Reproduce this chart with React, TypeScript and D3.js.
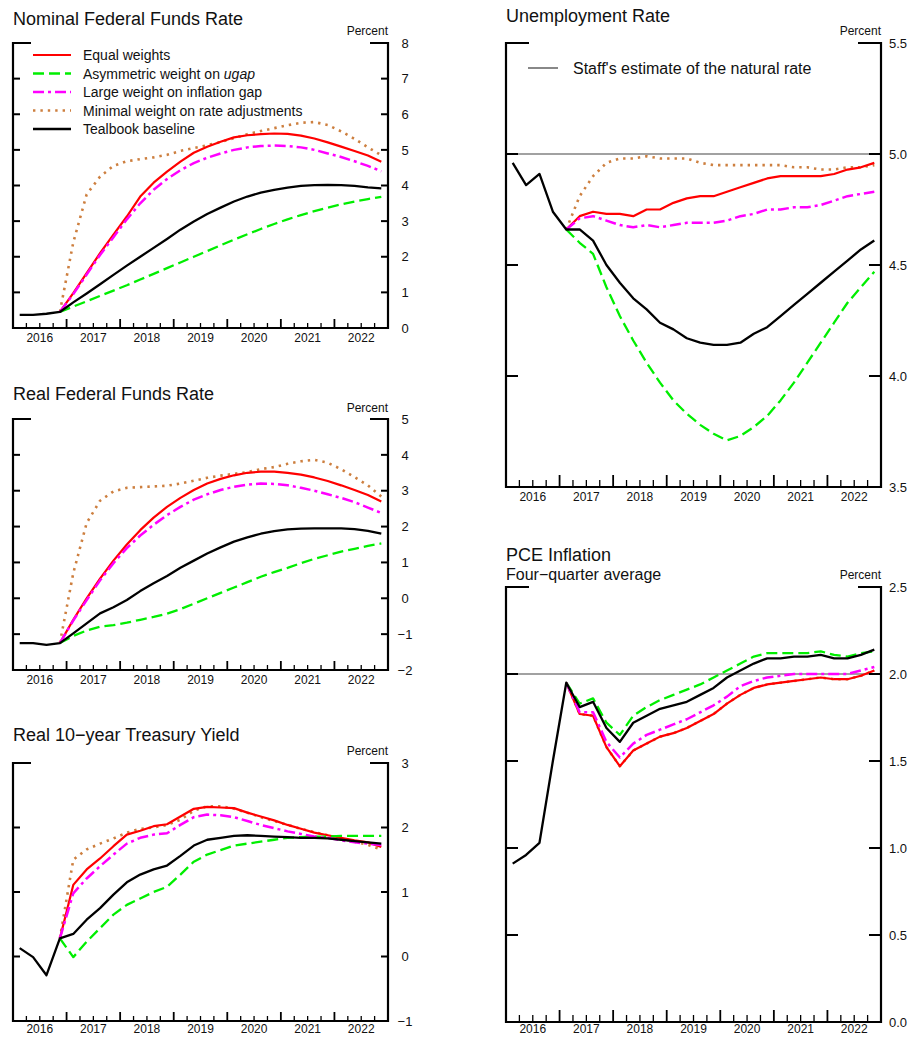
import React from "react";
import * as d3 from "d3";

// ---------- categories ----------
const quarters = [
  "2016Q1","2016Q2","2016Q3","2016Q4","2017Q1","2017Q2","2017Q3","2017Q4",
  "2018Q1","2018Q2","2018Q3","2018Q4","2019Q1","2019Q2","2019Q3","2019Q4",
  "2020Q1","2020Q2","2020Q3","2020Q4","2021Q1","2021Q2","2021Q3","2021Q4",
  "2022Q1","2022Q2","2022Q3","2022Q4",
];
const years = ["2016", "2017", "2018", "2019", "2020", "2021", "2022"];

const seriesNames = [
  "Equal weights",
  "Asymmetric weight on ugap",
  "Large weight on inflation gap",
  "Minimal weight on rate adjustments",
  "Tealbook baseline",
];
const naturalRateLabel = "Staff's estimate of the natural rate";

type V = number | null;
const _ = null;

// ---------- Nominal Federal Funds Rate ----------
const nomEqual: V[] = [_,_,_,0.45,0.98,1.54,2.1,2.62,3.13,3.69,4.08,4.39,4.67,4.92,5.09,5.23,5.35,5.41,5.44,5.46,5.45,5.4,5.32,5.21,5.09,4.97,4.84,4.67];
const nomAsym: V[] = [_,_,_,0.45,0.6,0.75,0.9,1.05,1.2,1.36,1.52,1.68,1.84,2.0,2.16,2.32,2.48,2.63,2.78,2.92,3.05,3.17,3.28,3.38,3.47,3.55,3.62,3.68];
const nomInfl: V[] = [_,_,_,0.45,0.95,1.5,2.05,2.55,3.05,3.5,3.88,4.18,4.43,4.63,4.78,4.9,5.0,5.07,5.11,5.12,5.11,5.07,5.0,4.9,4.8,4.68,4.55,4.4];
const nomMinimal: V[] = [_,_,_,0.45,2.4,3.75,4.25,4.55,4.68,4.74,4.79,4.86,4.97,5.05,5.13,5.22,5.33,5.44,5.53,5.61,5.69,5.76,5.78,5.7,5.52,5.31,5.07,4.85];
const nomBaseline: V[] = [0.37,0.37,0.4,0.45,0.72,0.97,1.23,1.49,1.75,2.0,2.25,2.5,2.76,2.99,3.2,3.38,3.55,3.69,3.8,3.88,3.94,3.99,4.01,4.02,4.01,3.99,3.95,3.92];
const nomTicks = [0, 1, 2, 3, 4, 5, 6, 7, 8];

// ---------- Real Federal Funds Rate ----------
const realEqual: V[] = [_,_,_,-1.25,-0.6,0.0,0.55,1.05,1.5,1.9,2.25,2.55,2.8,3.02,3.2,3.33,3.43,3.5,3.53,3.53,3.5,3.45,3.37,3.27,3.15,3.02,2.88,2.7];
const realAsym: V[] = [_,_,_,-1.25,-1.05,-0.9,-0.79,-0.75,-0.68,-0.6,-0.52,-0.43,-0.3,-0.15,0.0,0.15,0.3,0.45,0.6,0.73,0.85,0.98,1.1,1.2,1.3,1.38,1.46,1.53];
const realInfl: V[] = [_,_,_,-1.25,-0.62,-0.05,0.5,0.98,1.4,1.75,2.05,2.32,2.55,2.75,2.9,3.02,3.11,3.17,3.2,3.19,3.15,3.08,3.0,2.9,2.8,2.68,2.53,2.38];
const realMinimal: V[] = [_,_,_,-1.25,0.7,2.1,2.72,2.98,3.08,3.1,3.12,3.14,3.2,3.28,3.36,3.42,3.47,3.52,3.6,3.66,3.75,3.82,3.86,3.78,3.6,3.38,3.15,2.84];
const realBaseline: V[] = [-1.25,-1.25,-1.3,-1.25,-0.98,-0.7,-0.42,-0.25,-0.05,0.2,0.42,0.62,0.85,1.05,1.25,1.42,1.58,1.7,1.8,1.87,1.92,1.94,1.95,1.95,1.95,1.93,1.88,1.8];
const realTicks = [-2, -1, 0, 1, 2, 3, 4, 5];

// ---------- Real 10-year Treasury Yield ----------
const tyEqual: V[] = [_,_,_,0.28,1.11,1.35,1.52,1.71,1.89,1.95,2.02,2.05,2.17,2.29,2.32,2.31,2.3,2.23,2.17,2.11,2.04,1.98,1.92,1.88,1.84,1.8,1.77,1.7];
const tyAsym: V[] = [_,_,_,0.28,-0.01,0.23,0.44,0.65,0.8,0.9,1.0,1.08,1.27,1.47,1.58,1.65,1.72,1.75,1.78,1.81,1.84,1.85,1.86,1.86,1.87,1.87,1.87,1.87];
const tyInfl: V[] = [_,_,_,0.28,0.98,1.21,1.4,1.58,1.75,1.84,1.89,1.91,2.04,2.16,2.2,2.19,2.16,2.1,2.04,1.99,1.94,1.9,1.86,1.84,1.8,1.77,1.75,1.73];
const tyMinimal: V[] = [_,_,_,0.28,1.5,1.66,1.75,1.83,1.92,1.98,2.0,2.04,2.12,2.26,2.33,2.33,2.29,2.23,2.16,2.1,2.04,1.98,1.93,1.88,1.83,1.78,1.73,1.66];
const tyBaseline: V[] = [0.13,-0.01,-0.29,0.28,0.35,0.57,0.75,0.96,1.15,1.27,1.35,1.41,1.56,1.72,1.81,1.84,1.87,1.88,1.87,1.86,1.85,1.84,1.84,1.83,1.81,1.79,1.77,1.75];
const tyTicks = [-1, 0, 1, 2, 3];

// ---------- Unemployment Rate ----------
const unEqual: V[] = [_,_,_,_,4.66,4.72,4.74,4.73,4.73,4.72,4.75,4.75,4.78,4.8,4.81,4.81,4.83,4.85,4.87,4.89,4.9,4.9,4.9,4.9,4.91,4.93,4.94,4.96];
const unAsym: V[] = [_,_,_,_,4.66,4.6,4.55,4.4,4.27,4.16,4.06,3.97,3.89,3.83,3.78,3.74,3.71,3.73,3.77,3.82,3.89,3.97,4.06,4.15,4.24,4.33,4.4,4.47];
const unInfl: V[] = [_,_,_,_,4.66,4.71,4.72,4.7,4.68,4.67,4.68,4.67,4.68,4.69,4.69,4.69,4.7,4.72,4.73,4.75,4.75,4.76,4.76,4.77,4.79,4.81,4.82,4.83];
const unMinimal: V[] = [_,_,_,_,4.66,4.81,4.9,4.96,4.98,4.98,4.99,4.98,4.98,4.98,4.96,4.95,4.95,4.95,4.95,4.95,4.95,4.94,4.94,4.93,4.93,4.94,4.94,4.95];
const unBaseline: V[] = [4.96,4.86,4.91,4.74,4.66,4.66,4.61,4.5,4.42,4.35,4.3,4.24,4.21,4.17,4.15,4.14,4.14,4.15,4.19,4.22,4.27,4.32,4.37,4.42,4.47,4.52,4.57,4.61];
const naturalRate = 5.0;
const unTicks = [3.5, 4.0, 4.5, 5.0, 5.5];

// ---------- PCE Inflation ----------
const pceEqual: V[] = [_,_,_,_,1.95,1.77,1.76,1.58,1.47,1.56,1.6,1.64,1.66,1.69,1.73,1.77,1.83,1.88,1.92,1.94,1.95,1.96,1.97,1.98,1.97,1.97,1.99,2.02];
const pceAsym: V[] = [_,_,_,_,1.95,1.83,1.86,1.72,1.65,1.76,1.81,1.85,1.88,1.91,1.94,1.98,2.02,2.06,2.1,2.12,2.12,2.12,2.12,2.13,2.11,2.1,2.12,2.13];
const pceInfl: V[] = [_,_,_,_,1.95,1.78,1.78,1.61,1.52,1.6,1.65,1.68,1.71,1.74,1.78,1.82,1.87,1.93,1.96,1.98,1.99,2.0,2.0,2.0,2.0,2.0,2.02,2.04];
const pceMinimal: V[] = [_,_,_,_,1.95,1.77,1.76,1.58,1.47,1.56,1.6,1.64,1.66,1.69,1.73,1.77,1.83,1.88,1.92,1.94,1.95,1.96,1.97,1.98,1.97,1.97,1.99,2.02];
const pceBaseline: V[] = [0.91,0.96,1.03,1.5,1.95,1.81,1.84,1.69,1.61,1.72,1.76,1.8,1.82,1.84,1.88,1.92,1.98,2.02,2.06,2.09,2.09,2.1,2.1,2.11,2.09,2.09,2.11,2.14];
const pceTarget = 2.0;
const pceTicks = [0, 0.5, 1.0, 1.5, 2.0, 2.5];

// ---------- styles ----------
const FONT = "'Liberation Sans', Arial, Helvetica, sans-serif";
const seriesStyles = [
  { color: "#ff0000", width: 2.2, dash: "" },
  { color: "#00ee00", width: 2.3, dash: "11,5" },
  { color: "#ff00ff", width: 2.5, dash: "11,4,3,4" },
  { color: "#cd7f3f", width: 2.6, dash: "2.4,5" },
  { color: "#000000", width: 2.3, dash: "" },
];
// draw order: minimal-adjustment dots sit under the equal-weights line
const drawOrder = [3, 0, 1, 2, 4];

const qTime = (q: string) => +q.slice(0, 4) + (+q.slice(5) - 0.5) / 4;

type PanelProps = {
  x0: number; x1: number; top: number; bottom: number;
  title: string; subtitle?: string; titleY: number; subtitleY?: number; percentY: number;
  domain: [number, number]; ticks: number[]; fmt: (v: number) => string;
  series: V[][]; refLine?: number; yearDy: number;
  bracket: number; yTickLen: number; minorLen: number; majorLen: number;
  legend?: boolean; natLegend?: boolean;
};

function Panel(p: PanelProps) {
  const x = d3.scaleLinear().domain([+years[0], +years[years.length - 1] + 1]).range([p.x0, p.x1]);
  const y = d3.scaleLinear().domain(p.domain).range([p.bottom, p.top]);
  const line = d3
    .line<V>()
    .defined((d) => d !== null)
    .x((_d, i) => x(qTime(quarters[i])))
    .y((d) => y(d as number));

  const boundaries = quarters.slice(1).map((q) => qTime(q) - 0.125);
  const frame = `M${p.x0 + p.bracket},${p.top}H${p.x0}V${p.bottom}H${p.x1}V${p.top}H${p.x1 - p.bracket}`;

  return (
    <g>
      <text x={p.x0} y={p.titleY} fontSize={18} fill="#111">{p.title}</text>
      {p.subtitle && (
        <text x={p.x0} y={p.subtitleY} fontSize={16} fill="#111">{p.subtitle}</text>
      )}
      <text x={p.x1} y={p.percentY} fontSize={12} textAnchor="end" fill="#111">Percent</text>

      {p.refLine !== undefined && (
        <line x1={p.x0} x2={p.x1} y1={y(p.refLine)} y2={y(p.refLine)} stroke="#444" strokeWidth={1.2} />
      )}

      {drawOrder.map((k) => (
        <path
          key={k}
          d={line(p.series[k]) || ""}
          fill="none"
          stroke={seriesStyles[k].color}
          strokeWidth={seriesStyles[k].width}
          strokeDasharray={seriesStyles[k].dash || undefined}
          strokeLinejoin="round"
        />
      ))}

      <path d={frame} fill="none" stroke="#000" strokeWidth={2.2} />
      {p.ticks.slice(1, -1).map((t) => (
        <g key={t}>
          <line x1={p.x0} x2={p.x0 + p.yTickLen} y1={y(t)} y2={y(t)} stroke="#000" strokeWidth={2} />
          <line x1={p.x1 - p.yTickLen} x2={p.x1} y1={y(t)} y2={y(t)} stroke="#000" strokeWidth={2} />
        </g>
      ))}
      {p.ticks.map((t) => (
        <text key={"l" + t} x={p.x1 + 17} y={y(t)} dy="0.36em" fontSize={13} textAnchor="middle" fill="#111">
          {p.fmt(t)}
        </text>
      ))}
      {boundaries.map((b, i) => {
        const major = (i + 1) % 4 === 0;
        return (
          <line key={"b" + i} x1={x(b)} x2={x(b)} y1={p.bottom} y2={p.bottom - (major ? p.majorLen : p.minorLen)}
            stroke="#000" strokeWidth={major ? 1.8 : 1.3} />
        );
      })}
      {years.map((yr) => (
        <text key={yr} x={x(+yr + 0.5)} y={p.bottom + p.yearDy} fontSize={12} textAnchor="middle" fill="#111">{yr}</text>
      ))}

      {p.legend && (
        <g>
          {seriesNames.map((nm, k) => {
            const ly = p.top + 12 + k * 18.5;
            return (
              <g key={nm}>
                <line x1={p.x0 + 20} x2={p.x0 + 58} y1={ly} y2={ly} stroke={seriesStyles[k].color}
                  strokeWidth={seriesStyles[k].width} strokeDasharray={seriesStyles[k].dash || undefined} />
                <text x={p.x0 + 70} y={ly} dy="0.36em" fontSize={14} fill="#111">
                  {k === 1 ? (
                    <>Asymmetric weight on <tspan fontStyle="italic">ugap</tspan></>
                  ) : nm}
                </text>
              </g>
            );
          })}
        </g>
      )}
      {p.natLegend && (
        <g>
          <line x1={p.x0 + 22} x2={p.x0 + 52} y1={p.top + 25} y2={p.top + 25} stroke="#555" strokeWidth={1.4} />
          <text x={p.x0 + 67} y={p.top + 25} dy="0.36em" fontSize={16} fill="#111">{naturalRateLabel}</text>
        </g>
      )}
    </g>
  );
}

const intFmt = (v: number) => (v < 0 ? "\u2212" + Math.abs(v) : String(v));
const decFmt = (v: number) => v.toFixed(1);

export default function App() {
  const L = { x0: 13, x1: 388, bracket: 18, yTickLen: 7, minorLen: 5, majorLen: 9 };
  const R = { x0: 506, x1: 881, bracket: 23, yTickLen: 12, minorLen: 7, majorLen: 12 };
  return (
    <svg width={915} height={1037} style={{ position: "absolute", left: 0, top: 0, fontFamily: FONT }}>
      <rect width={915} height={1037} fill="#fff" />
      <Panel {...L} top={43} bottom={328} title="Nominal Federal Funds Rate" titleY={25} percentY={35}
        domain={[0, 8]} ticks={nomTicks} fmt={intFmt} yearDy={14}
        series={[nomEqual, nomAsym, nomInfl, nomMinimal, nomBaseline]} legend />
      <Panel {...L} top={419} bottom={670} title="Real Federal Funds Rate" titleY={400} percentY={412}
        domain={[-2, 5]} ticks={realTicks} fmt={intFmt} yearDy={14}
        series={[realEqual, realAsym, realInfl, realMinimal, realBaseline]} />
      <Panel {...L} top={763} bottom={1021} title={"Real 10\u2212year Treasury Yield"} titleY={741} percentY={755}
        domain={[-1, 3]} ticks={tyTicks} fmt={intFmt} yearDy={12}
        series={[tyEqual, tyAsym, tyInfl, tyMinimal, tyBaseline]} />
      <Panel {...R} top={43} bottom={487} title="Unemployment Rate" titleY={22} percentY={35}
        domain={[3.5, 5.5]} ticks={unTicks} fmt={decFmt} refLine={naturalRate} yearDy={14}
        series={[unEqual, unAsym, unInfl, unMinimal, unBaseline]} natLegend />
      <Panel {...R} top={587} bottom={1022} title="PCE Inflation" subtitle={"Four\u2212quarter average"}
        titleY={561} subtitleY={580} percentY={579}
        domain={[0, 2.5]} ticks={pceTicks} fmt={decFmt} refLine={pceTarget} yearDy={11}
        series={[pceEqual, pceAsym, pceInfl, pceMinimal, pceBaseline]} />
    </svg>
  );
}
